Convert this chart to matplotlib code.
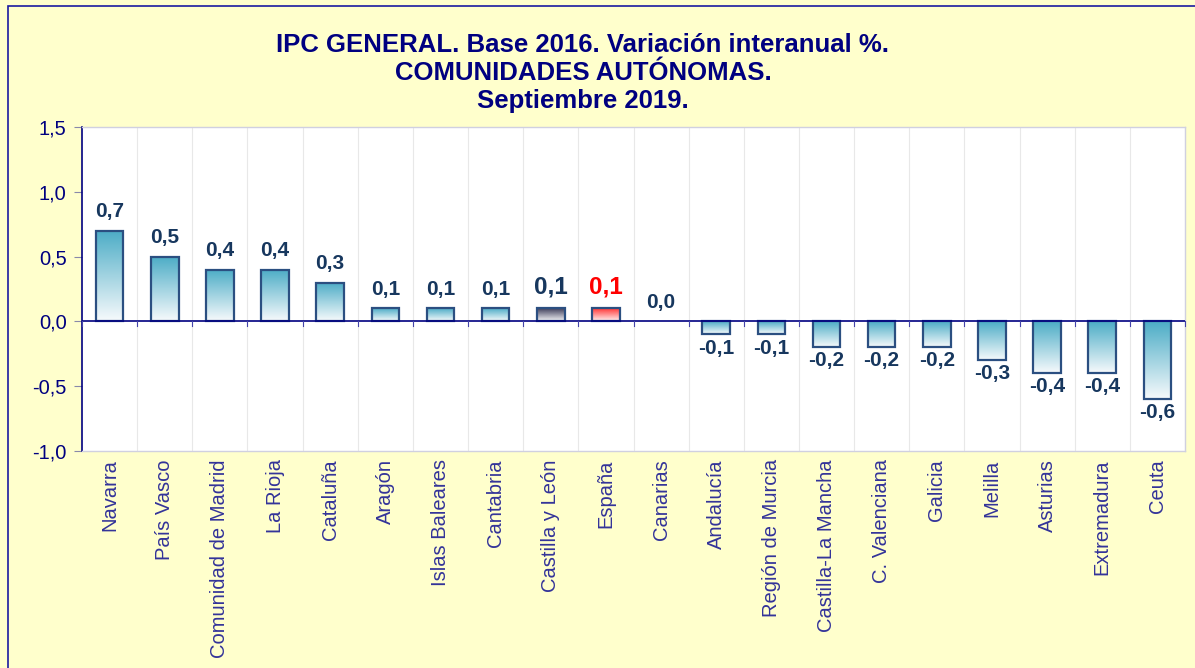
import numpy as np
import matplotlib
matplotlib.use("Agg")
import matplotlib.pyplot as plt
from matplotlib.patches import Rectangle
from matplotlib.colors import LinearSegmentedColormap

categories = ["Navarra", "País Vasco", "Comunidad de Madrid", "La Rioja", "Cataluña",
              "Aragón", "Islas Baleares", "Cantabria", "Castilla y León", "España",
              "Canarias", "Andalucía", "Región de Murcia", "Castilla-La Mancha",
              "C. Valenciana", "Galicia", "Melilla", "Asturias", "Extremadura", "Ceuta"]
values = [0.7, 0.5, 0.4, 0.4, 0.3, 0.1, 0.1, 0.1, 0.1, 0.1,
          0.0, -0.1, -0.1, -0.2, -0.2, -0.2, -0.3, -0.4, -0.4, -0.6]
yticks = [-1.0, -0.5, 0.0, 0.5, 1.0, 1.5]
ytick_labels = ["-1,0", "-0,5", "0,0", "0,5", "1,0", "1,5"]
title_lines = ["IPC GENERAL. Base 2016. Variación interanual %.",
               "COMUNIDADES AUTÓNOMAS.",
               "Septiembre 2019."]

plt.rcParams['font.family'] = ['Liberation Sans', 'DejaVu Sans']

BG = "#FFFFCC"
NAVY = "#000080"
W, H = 1195, 668
fig = plt.figure(figsize=(W / 100, H / 100), dpi=100, facecolor=BG)

# outer border
fig.patches.append(Rectangle((8 / W, -0.1), 1.2, 1 - 6 / H + 0.1, transform=fig.transFigure,
                             fill=False, edgecolor="#1a1aa0", linewidth=1.2))

ax = fig.add_axes([82 / W, 1 - 451 / H, (1185 - 82) / W, (451 - 127) / H])
ax.set_facecolor("white")
ax.set_xlim(-0.5, len(categories) - 0.5)
ax.set_ylim(-1.0, 1.5)

# vertical light grid between categories
for i in range(len(categories) - 1):
    ax.axvline(i + 0.5, color="#E8E8E8", linewidth=0.8, zorder=0)

cmaps = {
    "blue": LinearSegmentedColormap.from_list("b", ["#F7FAFC", "#4BACC6"]),
    "grey": LinearSegmentedColormap.from_list("g", ["#F4F4F6", "#3C3C5A"]),
    "red": LinearSegmentedColormap.from_list("r", ["#FFF2F2", "#FF3333"]),
}
grad = np.linspace(1, 0, 256).reshape(-1, 1)

x = np.arange(len(categories))
bw = 0.5
edgecols = ["none" if v == 0 else "#2B4F81" for v in values]
bars = ax.bar(x, values, width=bw, facecolor="none", edgecolor=edgecols,
              linewidth=1.6, zorder=3)
for i, (b, v) in enumerate(zip(bars, values)):
    if v == 0:
        continue
    name = categories[i]
    cm = cmaps["grey"] if name == "Castilla y León" else cmaps["red"] if name == "España" else cmaps["blue"]
    x0 = b.get_x()
    y0, y1 = min(0, v), max(0, v)
    im = ax.imshow(grad, cmap=cm, vmin=0, vmax=1, aspect="auto",
                   extent=[x0, x0 + bw, y0, y1], zorder=2, interpolation="bilinear")
    im.set_clip_path(b)

ax.set_xlim(-0.5, len(categories) - 0.5)
ax.set_ylim(-1.0, 1.5)

# value labels
for i, v in enumerate(values):
    name = categories[i]
    lab = f"{v:.1f}".replace(".", ",")
    color = "#17375E"
    size = 15
    if name == "Castilla y León":
        size = 17.5
    if name == "España":
        size = 17.5
        color = "#FF0000"
    if v >= 0:
        ax.annotate(lab, (i, v), xytext=(0, 7), textcoords="offset points",
                    ha="center", va="bottom", fontsize=size, fontweight="bold", color=color)
    else:
        ax.annotate(lab, (i, v), xytext=(0, -3), textcoords="offset points",
                    ha="center", va="top", fontsize=size, fontweight="bold", color=color)

# zero line
ax.axhline(0, color=NAVY, linewidth=1.2, zorder=4)
for i in range(len(categories) + 1):
    ax.plot([i - 0.5, i - 0.5], [0, -0.035], color="#4444AA", linewidth=0.8, zorder=4,
            clip_on=False)

for s in ["top", "right", "bottom"]:
    ax.spines[s].set_color("#D0D0E0")
    ax.spines[s].set_linewidth(1.0)
ax.spines["left"].set_color(NAVY)
ax.spines["left"].set_linewidth(1.2)

ax.set_yticks(yticks)
ax.set_yticklabels(ytick_labels, fontsize=14.5, color=NAVY)
ax.tick_params(axis="y", length=6, color="#8888AA", pad=5)
ax.set_xticks(x)
ax.set_xticklabels(categories, rotation=90, fontsize=14.5, color="#333399")
ax.tick_params(axis="x", length=0, pad=6)

for k, (line, yb) in enumerate(zip(title_lines, [52, 80, 108])):
    fig.text(583 / W, 1 - yb / H, line, ha="center", va="baseline",
             fontsize=18.5, fontweight="bold", color=NAVY)

fig.savefig("out.png", dpi=100, facecolor=BG)
